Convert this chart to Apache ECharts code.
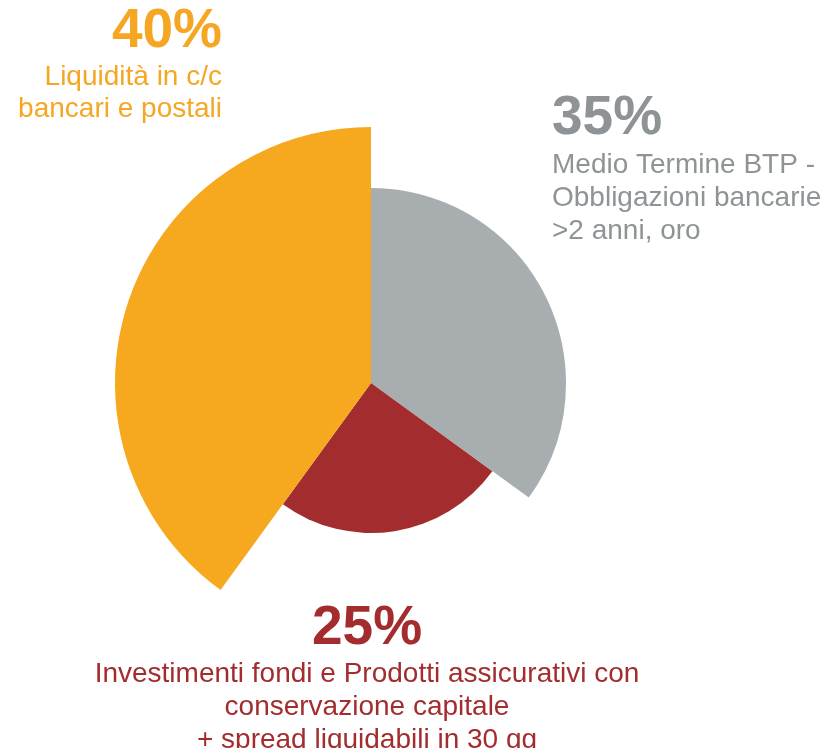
<!DOCTYPE html>
<html>
<head>
<meta charset="utf-8">
<script src="https://cdn.jsdelivr.net/npm/echarts@6/dist/echarts.min.js"></script>
<style>
  html, body { margin: 0; padding: 0; background: #fff; }
  #chart { width: 834px; height: 748px; }
</style>
</head>
<body>
<div id="chart"></div>
<script>
// data, clockwise from 12 o'clock
const categories = [
  ['Medio Termine BTP -', 'Obbligazioni bancarie', '>2 anni, oro'],
  ['Investimenti fondi e Prodotti assicurativi con', 'conservazione capitale', '+ spread liquidabili in 30 gg'],
  ['Liquidità in c/c', 'bancari e postali']
]
const values = [35, 25, 40]

// styles
const sliceColors = ['#a8adaf', '#a32d2e', '#f6a81e']
const textColors = ['#8e9496', '#a32d2e', '#f5a623']
const radii = [195, 150, 256]
const center = [371, 383]
const FONT = '"Liberation Sans", Arial, Helvetica, sans-serif'

// label placement: anchor x, align, percent mid y, text block mid y, line height
const labelPos = [
  { x: 552, align: 'left', pctY: 119, txtY: 198, lh: 33 },
  { x: 367, align: 'center', pctY: 629, txtY: 707, lh: 33 },
  { x: 222, align: 'right', pctY: 32, txtY: 93, lh: 32 }
]

const chart = echarts.init(document.getElementById('chart'))

const series = values.map((v, i) => ({
  type: 'pie',
  center: center,
  radius: [0, radii[i]],
  startAngle: 90,
  clockwise: true,
  silent: true,
  animation: false,
  label: { show: false },
  labelLine: { show: false },
  emphasis: { disabled: true },
  data: values.map((val, j) => ({
    value: val,
    name: categories[j].join(' '),
    itemStyle: {
      color: j === i ? sliceColors[j] : 'transparent',
      borderWidth: 0
    }
  }))
}))

const graphic = []
values.forEach((v, i) => {
  const p = labelPos[i]
  graphic.push({
    type: 'text',
    silent: true,
    style: {
      text: v + '%',
      x: p.x, y: p.pctY,
      fill: textColors[i],
      font: 'bold 55px ' + FONT,
      textAlign: p.align, align: p.align,
      textVerticalAlign: 'middle', verticalAlign: 'middle'
    }
  })
  graphic.push({
    type: 'text',
    silent: true,
    style: {
      text: categories[i].join('\n'),
      x: p.x, y: p.txtY,
      fill: textColors[i],
      font: '28px ' + FONT,
      lineHeight: p.lh,
      textAlign: p.align, align: p.align,
      textVerticalAlign: 'middle', verticalAlign: 'middle'
    }
  })
})

chart.setOption({
  backgroundColor: '#fff',
  animation: false,
  series: series,
  graphic: graphic
})

window.addEventListener('resize', function () {
  chart.resize()
})
</script>
</body>
</html>
